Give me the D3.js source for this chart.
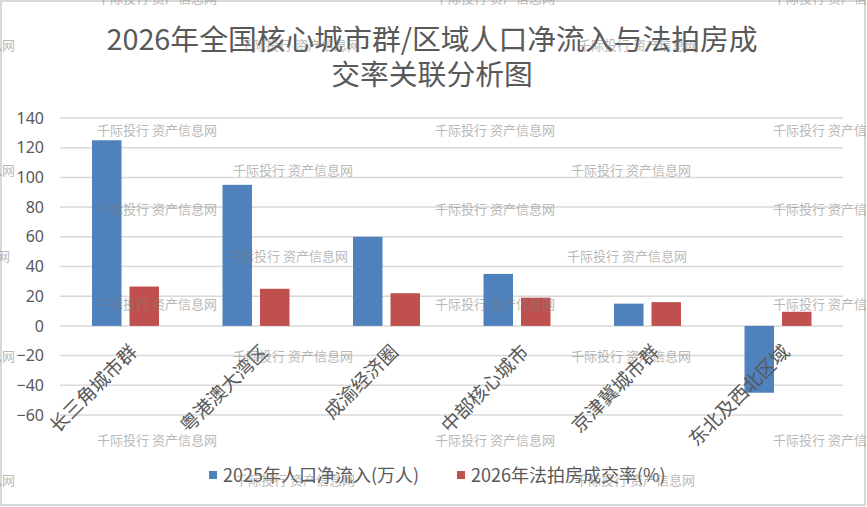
<!DOCTYPE html>
<html><head><meta charset="utf-8">
<script src="https://cdn.jsdelivr.net/npm/d3@7/dist/d3.min.js"></script>
<style>
html,body{margin:0;padding:0;background:#fff;}
svg{display:block;}
text{font-family:"Noto Sans CJK SC","Noto Sans",sans-serif;}
</style></head>
<body>
<svg id="chart" width="867" height="507"></svg>
<script>
// ---- data ----
const categories = ["长三角城市群","粤港澳大湾区","成渝经济圈","中部核心城市","京津冀城市群","东北及西北区域"];
const populationInflow = [125, 95, 60, 35, 15, -45];   // 2025年人口净流入(万人)
const auctionRate = [26.5, 25, 22, 19, 16, 9.5];        // 2026年法拍房成交率(%)
const seriesNames = ["2025年人口净流入(万人)","2026年法拍房成交率(%)"];
const yTicks = [-60,-40,-20,0,20,40,60,80,100,120,140];
const titleLines = ["2026年全国核心城市群/区域人口净流入与法拍房成","交率关联分析图"];
const watermarkText = "千际投行 资产信息网";

// ---- layout ----
const W = 867, H = 507;
const colors = ["#4f81bd","#c0504d"];
const textColor = "#595959";
const svg = d3.select("#chart");

svg.append("rect").attr("x",1).attr("y",1).attr("width",W-3).attr("height",H-3)
  .attr("fill","#fff").attr("stroke","#d9d9d9").attr("stroke-width",2);

const x0 = d3.scaleBand().domain(categories).range([60, 843]).paddingInner(0).paddingOuter(0);
const x1 = d3.scaleBand().domain([0,1]).range([32, 99]).paddingInner(8/37.5).paddingOuter(0);
const y = d3.scaleLinear().domain([-60,140]).range([415, 118]);

// gridlines
svg.append("g").selectAll("line").data(yTicks).join("line")
  .attr("x1",60).attr("x2",843)
  .attr("y1",d=>y(d)).attr("y2",d=>y(d))
  .attr("stroke","#d9d9d9").attr("stroke-width",1.5);

// y axis labels
const yAxis = d3.axisLeft(y).tickValues(yTicks).tickSize(0).tickPadding(0);
const gy = svg.append("g").attr("transform","translate(44,0)").call(yAxis);
gy.select(".domain").remove();
gy.selectAll("text").attr("fill",textColor).style("font-size","16px")
  .style("font-family","'Noto Sans','Liberation Sans',sans-serif");

// bars
const series = [populationInflow, auctionRate];
series.forEach((vals, si) => {
  svg.append("g").selectAll("rect").data(vals).join("rect")
    .attr("x",(d,i)=>x0(categories[i]) + x1(si))
    .attr("width",x1.bandwidth())
    .attr("y",d=>y(Math.max(0,d)))
    .attr("height",d=>Math.abs(y(d)-y(0)))
    .attr("fill",colors[si]);
});

// x labels (rotated)
const xl = svg.append("g");
categories.forEach(c => {
  const cx = x0(c) + x0.bandwidth()/2 + 3;
  xl.append("text").attr("transform",`translate(${cx},343) rotate(-45)`)
    .attr("text-anchor","end").attr("dy","0.75em")
    .attr("fill",textColor).style("font-size","19px").text(c);
});

// title
svg.append("g").selectAll("text").data(titleLines).join("text")
  .attr("x",432).attr("y",(d,i)=>50 + i*35)
  .attr("text-anchor","middle").attr("fill",textColor)
  .style("font-size","28.8px").text(d=>d);

// legend
const leg = svg.append("g");
const legX = [209, 457];
seriesNames.forEach((n,i)=>{
  leg.append("rect").attr("x",legX[i]).attr("y",471).attr("width",8).attr("height",8).attr("fill",colors[i]);
  leg.append("text").attr("x",legX[i]+14).attr("y",482).attr("fill",textColor)
    .style("font-size","18px").text(n);
});

// watermark overlay
const wmRows = [
  [-2,[97,435,773]],[45,[-105,240,578]],[130,[97,435,773]],[170,[-105,233,571]],
  [209,[97,435,773]],[256,[-110,228,567]],[304,[97,435,773]],[356,[-105,233,571]],
  [440,[97,435,773]],[480,[-105,235,575]]
];
const wm = svg.append("g").attr("opacity",0.55);
wmRows.forEach(([yy, xs]) => xs.forEach(xx => {
  wm.append("text").attr("x",xx).attr("y",yy).attr("dy","0.35em")
    .attr("fill","#7f7f7f").style("font-size","13px").text(watermarkText);
}));
</script>
</body></html>
